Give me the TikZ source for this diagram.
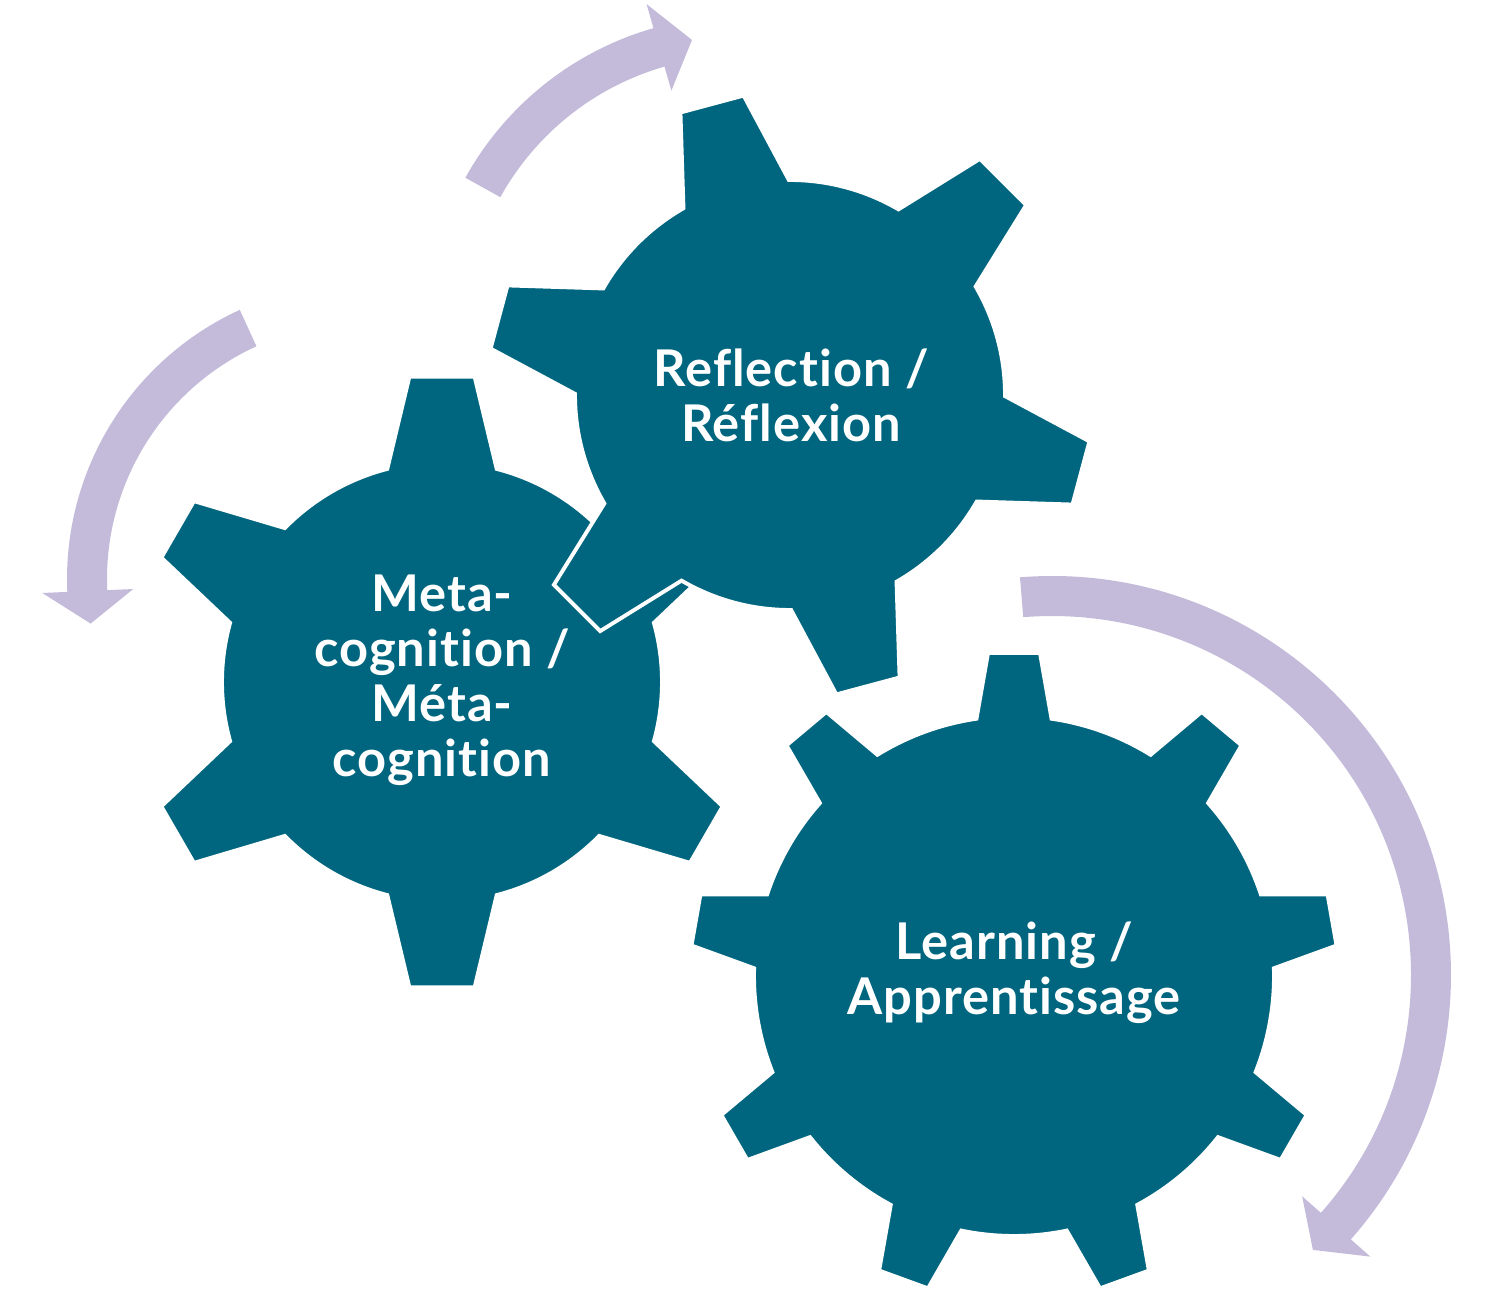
\documentclass[tikz,border=0pt]{standalone}
\usepackage{fontspec}
\setsansfont{Lato}[Ligatures=NoCommon, LetterSpace=2]
\usepackage{xcolor}

\definecolor{gearteal}{RGB}{0,102,127}
\definecolor{arrowlilac}{RGB}{195,187,217}

\tikzset{
  gearbody/.style={fill=gearteal, draw=white, line width=1.1pt, line join=miter},
  cyclearrow/.style={fill=arrowlilac},
  gearlabel/.style={text=white, align=center, font=\sffamily\bfseries\fontsize{14.4}{15.6}\selectfont}
}

% #1 centre, #2 teeth, #3 first tooth angle, #4 body radius, #5 tip radius,
% #6 half angle at base, #7 half angle at tip
\newcommand{\gearshape}[7]{%
  \filldraw[gearbody, shift={(#1)}] ({#3-#6}:#4)
    \foreach \i [evaluate=\i as \a using {#3+(\i-1)*360/#2}] in {1,...,#2} {
      -- ({\a-#7}:#5) -- ({\a+#7}:#5) -- ({\a+#6}:#4)
      arc[start angle={\a+#6}, end angle={\a+360/#2-#6}, radius=#4]
    } -- cycle;
}

% #1 centre, #2 inner r, #3 outer r, #4 start angle, #5 head angle,
% #6 tip angle, #7 head inner r, #8 head outer r
\newcommand{\curvedarrow}[8]{%
  \fill[cyclearrow, shift={(#1)}] (#4:#3)
    arc[start angle=#4, end angle=#5, radius=#3]
    -- (#5:#8) -- (#6:{(#2+#3)/2}) -- (#5:#7) -- (#5:#2)
    arc[start angle=#5, end angle=#4, radius=#2] -- cycle;
}

\begin{document}
\begin{tikzpicture}[x=0.01cm, y=0.01cm]
\useasboundingbox (0,0) rectangle (1485,-1304);

% gear centres
\coordinate (learnC) at (1014,-976);
\coordinate (metaC) at (442,-682);
\coordinate (reflC) at (790,-395);

% arrows
\curvedarrow{740,-330}{274}{314}{151}{106}{99.4}{249}{339}
\curvedarrow{363,-579}{256}{296}{114.6}{182.5}{189.3}{230}{321}
\curvedarrow{1052,-975}{359}{399}{94.6}{-41.5}{-46.5}{334}{425}

% gears
\gearshape{learnC}{9}{90}{260}{324}{8.3}{4.6}
\gearshape{metaC}{6}{90}{220}{307}{14.4}{6.1}
\gearshape{reflC}{6}{105}{215}{303}{14.7}{6.2}

% labels
\node[gearlabel] (learn) at (1014,-973) {Learning /\\Apprentissage};
\node[gearlabel] (meta) at (442,-680) {Meta-\\cognition /\\Méta-\\cognition};
\node[gearlabel] (refl) at (791,-395) {Reflection /\\Réflexion};
\end{tikzpicture}
\end{document}
